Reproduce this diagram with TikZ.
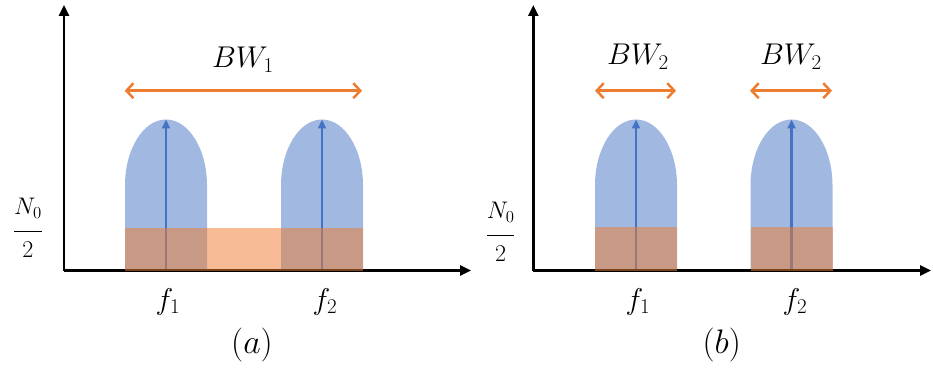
\documentclass[tikz,border=0pt]{standalone}
\usepackage{fix-cm}
\usepackage{amsmath}
\usepackage{tikz}
\usetikzlibrary{arrows.meta}
\definecolor{lobeblue}{RGB}{68,114,196}
\definecolor{bworange}{RGB}{237,125,49}
% one signal lobe, centred on carrier x = #1
\newcommand{\siglobe}[1]{%
  \fill[lobeblue,fill opacity=0.5] (#1-41,96.5) -- (#1-41,181.5)
    arc[start angle=180,end angle=0,x radius=41pt,y radius=66pt] -- (#1+41,96.5) -- cycle;}
\newcommand{\halfnoise}{$\displaystyle\frac{N_0\rule[-12.6pt]{0pt}{0pt}}{\rule{0pt}{22.8pt}2}$}

\begin{document}
\begin{tikzpicture}[x=1pt,y=1pt,font=\fontsize{30}{36}\selectfont,
  axis/.style={line width=2.5pt,-{Triangle[length=11pt,width=10pt]}},
  carrier/.style={lobeblue,line width=2.2pt,-{Triangle[length=9pt,width=8pt]}},
  bwarrow/.style={bworange,line width=2.5pt,
    {Straight Barb[length=7pt,width=15pt]}-{Straight Barb[length=7pt,width=15pt]}},
  noise/.style={bworange,fill opacity=0.52},
  caption/.style={anchor=base,font=\fontsize{34}{40}\selectfont}]
  \useasboundingbox (0,0) rectangle (933,367);

  % (a) one wide band
  \coordinate (Oa) at (64,96.5);
  \coordinate (Ya) at (64,362);
  \coordinate (Xa) at (471,96.5);
  \coordinate (c1a) at (166,96.5);
  \coordinate (p1a) at (166,247.5);
  \coordinate (c2a) at (322,96.5);
  \coordinate (p2a) at (322,247.5);
  \siglobe{166}
  \siglobe{322}
  \draw[carrier] (c1a) -- (p1a);
  \draw[carrier] (c2a) -- (p2a);
  \draw[axis] (Oa) -- (Ya);
  \draw[axis] (Oa) -- (Xa);
  \fill[noise] (124.7,96.5) rectangle (362.7,139.5);
  \coordinate (bwla) at (124.7,276.3);
  \coordinate (bwra) at (362,276.3);
  \draw[bwarrow] (bwla) -- (bwra);
  \node[anchor=base] (bw1) at (243,299) {$BW_1$};
  \node[anchor=base] (n0a) at (28,130) {\fontsize{24}{29}\selectfont\halfnoise};
  \node[anchor=base] (f1a) at (168,58) {$f_1$};
  \node[anchor=base] (f2a) at (325,58) {$f_2$};
  \node[caption] (capa) at (252,13.5) {$(a)$};

  % (b) two narrow bands
  \coordinate (Ob) at (533.3,96.5);
  \coordinate (Yb) at (533.3,362);
  \coordinate (Xb) at (931,96.5);
  \coordinate (c1b) at (636,96.5);
  \coordinate (p1b) at (636,247.5);
  \coordinate (c2b) at (791.5,96.5);
  \coordinate (p2b) at (791.5,247.5);
  \siglobe{636}
  \siglobe{791.5}
  \draw[carrier] (c1b) -- (p1b);
  \draw[carrier] (c2b) -- (p2b);
  \draw[axis] (Ob) -- (Yb);
  \draw[axis] (Ob) -- (Xb);
  \fill[noise] (595,96.5) rectangle (676.5,140.5);
  \fill[noise] (750.5,96.5) rectangle (832.5,140.5);
  \coordinate (bwl1b) at (595,276.3);
  \coordinate (bwr1b) at (676,276.3);
  \coordinate (bwl2b) at (750,276.3);
  \coordinate (bwr2b) at (832,276.3);
  \draw[bwarrow] (bwl1b) -- (bwr1b);
  \draw[bwarrow] (bwl2b) -- (bwr2b);
  \node[anchor=base] (bw2l) at (638,302) {$BW_2$};
  \node[anchor=base] (bw2r) at (791,302) {$BW_2$};
  \node[anchor=base] (n0b) at (500.7,126) {\fontsize{24}{29}\selectfont\halfnoise};
  \node[anchor=base] (f1b) at (638,58) {$f_1$};
  \node[anchor=base] (f2b) at (795,58) {$f_2$};
  \node[caption] (capb) at (721.7,13.5) {$(b)$};
\end{tikzpicture}
\end{document}
